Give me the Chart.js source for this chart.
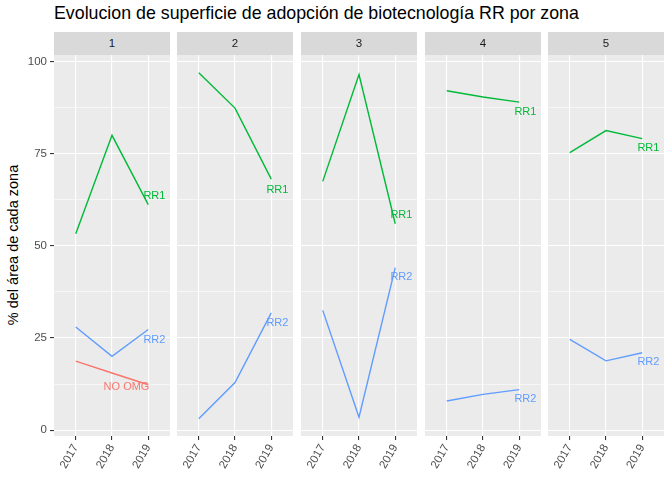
<!DOCTYPE html>
<html>
<head>
<meta charset="utf-8">
<script src="https://cdn.jsdelivr.net/npm/chart.js@4"></script>
<style>
  body { margin: 0; background: #fff; font-family: "Liberation Sans", Arial, sans-serif; }
  #wrap { position: relative; width: 672px; height: 480px; overflow: hidden; }
  #title { position: absolute; left: 54px; top: 3px; font-size: 17.8px; color: #000; white-space: nowrap; }
  #ytitle { position: absolute; left: 13px; top: 245px; transform: translate(-50%, -50%) rotate(-90deg);
            font-size: 14.5px; color: #000; white-space: nowrap; }
  .strip { position: absolute; top: 32px; height: 23px; width: 116px; background: #D9D9D9; color: #1A1A1A;
           font-size: 11.5px; text-align: center; line-height: 23px; z-index: 2; }
  canvas { position: absolute; top: 32px; }
</style>
</head>
<body>
<div id="wrap">
  <div id="title">Evolucion de superficie de adopción de biotecnología RR por zona</div>
  <div id="ytitle">% del área de cada zona</div>
</div>
<script>
// data
const years = [2017, 2018, 2019];
const zonas = ["1", "2", "3", "4", "5"];
const rr1 = [
  [53.3, 80.0, 61.2],
  [97.0, 87.4, 68.1],
  [67.5, 96.5, 56.0],
  [92.1, 90.4, 89.0],
  [75.3, 81.3, 79.1],
];
const rr2 = [
  [28.0, 20.0, 27.3],
  [3.1, 12.9, 31.8],
  [32.5, 3.5, 44.1],
  [7.9, 9.7, 11.0],
  [24.6, 18.8, 21.0],
];
const noOmg = [[18.7, 15.5, 12.3], null, null, null, null];
// text label anchors (x in years, y in %)
const rr1LabelY = [63.6, 65.3, 58.3, 86.3, 76.5];
const rr2LabelY = [24.5, 29.2, 41.5, 8.4, 18.5];
const labelX = 2019.17;
const noOmgLabel = { x: 2018.4, y: 11.7 };
const yTicks = [0, 12.5, 25, 37.5, 50, 62.5, 75, 87.5, 100];

const colors = { "NO OMG": "#F8766D", RR1: "#00BA38", RR2: "#619CFF" };
const panelLeft = [54, 177, 301, 425, 548];
const panelW = 116;

Chart.defaults.font.family = "'Liberation Sans', Arial, sans-serif";

const panelBg = {
  id: "panelBg",
  beforeDraw(chart) {
    const { ctx, chartArea: a } = chart;
    ctx.save();
    ctx.fillStyle = "#EBEBEB";
    ctx.fillRect(a.left, a.top, a.right - a.left, a.bottom - a.top);
    ctx.restore();
  },
};

const textLabels = {
  id: "textLabels",
  afterDatasetsDraw(chart) {
    const ctx = chart.ctx;
    chart.data.datasets.forEach((ds, i) => {
      if (!ds.labelText) return;
      const pt = chart.getDatasetMeta(i).data[0];
      ctx.save();
      ctx.font = "11px 'Liberation Sans', Arial, sans-serif";
      ctx.fillStyle = ds.borderColor;
      ctx.textAlign = "center";
      ctx.textBaseline = "middle";
      ctx.fillText(ds.labelText, pt.x, pt.y);
      ctx.restore();
    });
  },
};

const wrap = document.getElementById("wrap");

zonas.forEach((z, i) => {
  const first = i === 0;
  const strip = document.createElement("div");
  strip.className = "strip";
  strip.style.left = panelLeft[i] + "px";
  strip.textContent = z;
  wrap.appendChild(strip);

  const cv = document.createElement("canvas");
  const left = first ? 0 : panelLeft[i];
  const w = first ? panelLeft[i] + panelW : panelW;
  cv.width = w;
  cv.height = 448;
  cv.style.left = left + "px";
  cv.style.width = w + "px";
  cv.style.height = "448px";
  wrap.appendChild(cv);

  const line = (name, vals) => ({
    label: name,
    data: vals.map((v, k) => ({ x: years[k], y: v })),
    borderColor: colors[name],
    borderWidth: 1.4,
    pointRadius: 0,
    fill: false,
    tension: 0,
  });
  const lab = (name, x, y) => ({
    label: name + " label",
    labelText: name,
    data: [{ x: x, y: y }],
    borderColor: colors[name],
    pointRadius: 0,
    showLine: false,
  });

  const datasets = [];
  if (noOmg[i]) datasets.push(line("NO OMG", noOmg[i]));
  datasets.push(line("RR1", rr1[i]));
  datasets.push(line("RR2", rr2[i]));
  if (noOmg[i]) datasets.push(lab("NO OMG", noOmgLabel.x, noOmgLabel.y));
  datasets.push(lab("RR1", labelX, rr1LabelY[i]));
  datasets.push(lab("RR2", labelX, rr2LabelY[i]));

  new Chart(cv, {
    type: "line",
    data: { datasets },
    plugins: [panelBg, textLabels],
    options: {
      responsive: false,
      animation: false,
      layout: { padding: { top: 23, left: 0, right: 0, bottom: 0 } },
      plugins: { legend: { display: false }, tooltip: { enabled: false } },
      scales: {
        x: {
          type: "linear",
          min: 2016.4,
          max: 2019.6,
          afterBuildTicks: (s) => { s.ticks = years.map((v) => ({ value: v })); },
          afterFit: (s) => { s.height = 44; s.paddingLeft = 0; s.paddingRight = 0; },
          border: { display: false },
          grid: { color: "#FFFFFF", lineWidth: 1.1, drawTicks: true, tickLength: 4, tickColor: "#333333" },
          ticks: {
            autoSkip: false,
            minRotation: 60,
            maxRotation: 60,
            padding: 2,
            color: "#4D4D4D",
            font: { size: 11.5 },
            callback: (v) => String(v),
          },
        },
        y: {
          min: -1.6,
          max: 101.8,
          afterBuildTicks: (s) => { s.ticks = yTicks.map((v) => ({ value: v })); },
          afterFit: (s) => { s.width = first ? panelLeft[0] : 0; s.paddingTop = 0; s.paddingBottom = 0; },
          border: { display: false },
          grid: {
            color: "#FFFFFF",
            lineWidth: (c) => (c.tick && c.tick.value % 25 === 0 ? 1.1 : 0.55),
            drawTicks: first,
            tickLength: 4,
            tickColor: (c) => (c.tick && c.tick.value % 25 === 0 ? "#333333" : "rgba(0,0,0,0)"),
          },
          ticks: {
            display: first,
            padding: 3,
            color: "#4D4D4D",
            font: { size: 11.5 },
            callback: (v) => (v % 25 === 0 ? String(v) : ""),
          },
        },
      },
    },
  });
});
</script>
</body>
</html>
